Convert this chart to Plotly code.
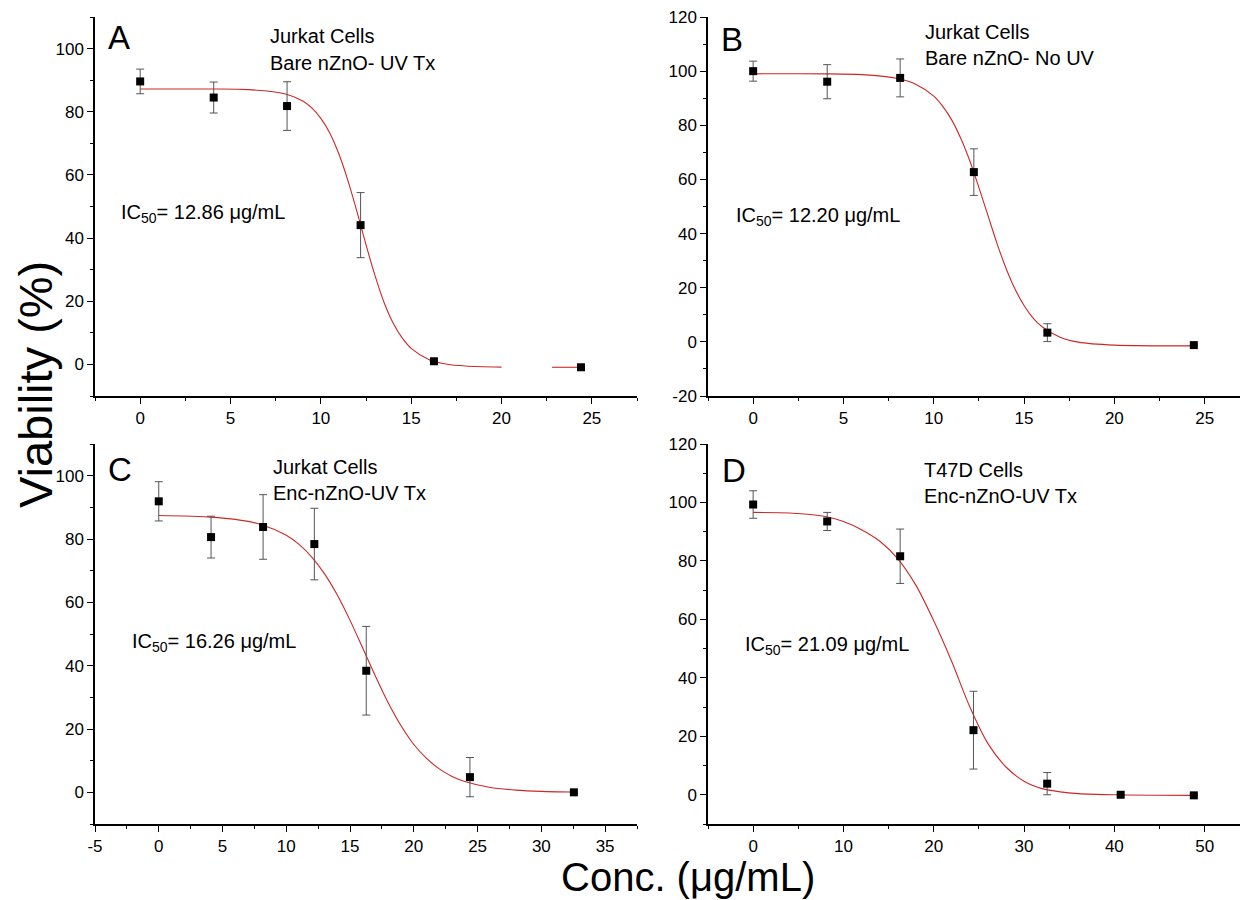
import plotly.graph_objects as go

# ---------------- data ----------------
# Panel A: Jurkat Cells, Bare nZnO - UV Tx
a_conc = [0, 4.07, 8.13, 12.2, 16.26, 24.4]
a_viab = [89.6, 84.5, 81.8, 44.1, 1.0, -0.9]
a_err = [3.9, 4.9, 7.7, 10.3, 0, 0]
a_fit_x = [0, 2, 4, 6, 8, 9, 9.5, 10, 10.5, 11, 11.5, 12, 12.5, 13, 13.5, 14, 14.5, 15, 16, 17, 18, 20, None, 22.8, 24.4]
a_fit_y = [87.2, 87.2, 87.2, 87.0, 85.7, 83.4, 81.2, 77.9, 73.2, 66.6, 58.2, 48.4, 37.9, 28.1, 19.6, 13.1, 8.4, 5.1, 1.5, 0.05, -0.5, -0.85, None, -0.9, -0.9]

# Panel B: Jurkat Cells, Bare nZnO - No UV
b_conc = [0, 4.1, 8.14, 12.22, 16.29, 24.4]
b_viab = [100.0, 96.1, 97.5, 62.7, 3.4, -1.2]
b_err = [3.7, 6.3, 7.0, 8.6, 3.3, 0]
b_fit_x = [0, 4, 6, 8, 9, 10, 10.5, 11, 11.5, 12, 12.5, 13, 13.5, 14, 14.5, 15, 15.5, 16, 17, 18, 20, 24.4]
b_fit_y = [99.0, 99.0, 98.7, 97.3, 95.2, 90.8, 87.0, 81.9, 75.1, 66.8, 57.0, 46.7, 36.4, 27.2, 19.5, 13.4, 8.8, 5.6, 1.7, -0.1, -1.2, -1.5]

# Panel C: Jurkat Cells, Enc-nZnO-UV Tx
c_conc = [0, 4.1, 8.18, 12.2, 16.27, 24.4, 32.55]
c_viab = [91.9, 80.6, 83.8, 78.4, 38.4, 4.8, 0.0]
c_err = [6.2, 6.6, 10.2, 11.3, 14.0, 6.2, 0]
c_fit_x = [0, 2, 4, 6, 8, 10, 11, 12, 13, 14, 15, 16, 17, 18, 19, 20, 21, 22, 23, 24, 26, 28, 30, 32.5]
c_fit_y = [87.4, 87.25, 86.9, 86.2, 84.6, 81.2, 78.3, 74.3, 69.0, 62.3, 54.3, 45.5, 36.6, 28.2, 21.0, 15.1, 10.7, 7.4, 5.0, 3.4, 1.5, 0.7, 0.3, 0.1]

# Panel D: T47D Cells, Enc-nZnO-UV Tx
d_conc = [0, 8.2, 16.28, 24.4, 32.56, 40.7, 48.8]
d_viab = [99.3, 93.5, 81.6, 22.1, 3.8, 0.0, -0.2]
d_err = [4.7, 3.1, 9.3, 13.3, 3.8, 0, 0]
d_fit_x = [0, 4, 8, 10, 12, 14, 16, 18, 20, 22, 24, 26, 28, 30, 32, 34, 36, 40, 48.8]
d_fit_y = [96.6, 96.4, 95.2, 93.5, 90.7, 86.8, 80.8, 71.8, 59.5, 45.5, 30.0, 17.5, 9.5, 4.6, 2.1, 1.0, 0.4, 0.0, -0.2]

# tick labels (hyphen minus as in the reference)
ab_xticks = [0, 5, 10, 15, 20, 25]
c_xticks = [-5, 0, 5, 10, 15, 20, 25, 30, 35]
d_xticks = [0, 10, 20, 30, 40, 50]
ac_yticks = [0, 20, 40, 60, 80, 100]
b_yticks = [-20, 0, 20, 40, 60, 80, 100, 120]
d_yticks = [0, 20, 40, 60, 80, 100, 120]

panel_letters = ["A", "B", "C", "D"]
panel_line1 = ["Jurkat Cells", "Jurkat Cells", "Jurkat Cells", "T47D Cells"]
panel_line2 = ["Bare nZnO- UV Tx", "Bare nZnO- No UV", "Enc-nZnO-UV Tx", "Enc-nZnO-UV Tx"]
ic50_values = ["12.86", "12.20", "16.26", "21.09"]

# ---------------- figure ----------------
# the page has an 8 px body margin: the figure is sized to the visible area
OFF = 8
W, H = 1248 - OFF, 900 - OFF
FONT = "Arial, Liberation Sans, Helvetica, sans-serif"

def px_x(p):
    return (p - OFF) / W

def px_y(p):
    return 1 - (p - OFF) / H

def lbl(v):
    return str(v).replace("\u2212", "-")

fig = go.Figure()

panels = [
    (a_conc, a_viab, a_err, a_fit_x, a_fit_y),
    (b_conc, b_viab, b_err, b_fit_x, b_fit_y),
    (c_conc, c_viab, c_err, c_fit_x, c_fit_y),
    (d_conc, d_viab, d_err, d_fit_x, d_fit_y),
]

for i, (cx, cy, ce, fx, fy) in enumerate(panels):
    xa = "x" if i == 0 else f"x{i+1}"
    ya = "y" if i == 0 else f"y{i+1}"
    fig.add_trace(go.Scatter(
        x=fx, y=fy, mode="lines", xaxis=xa, yaxis=ya,
        line=dict(color="rgb(205,40,40)", width=1.1, shape="spline", smoothing=0.8),
        connectgaps=False, showlegend=False, hoverinfo="skip"))
    fig.add_trace(go.Scatter(
        x=cx, y=cy, mode="markers", xaxis=xa, yaxis=ya,
        marker=dict(symbol="square", size=8, color="black"),
        error_y=dict(type="data", array=ce, visible=True, color="#555555",
                     thickness=1, width=4),
        showlegend=False))

# domains in page pixels
col_px = [(95, 637), (708, 1248)]
row_px = [(17, 396), (444, 824)]
x_ranges = [[-2.5, 27.5], [-2.5, 27.4], [-5, 37.5], [-5, 54.8]]
x_minor = [2.5, 2.5, 2.5, 5]
x_tickvals = [ab_xticks, ab_xticks, c_xticks, d_xticks]
y_ranges = [[-10, 110], [-20, 120], [-10, 110], [-10, 120]]
y_tickvals = [ac_yticks, b_yticks, ac_yticks, d_yticks]

for i in range(4):
    r, c = divmod(i, 2)
    xk = "xaxis" if i == 0 else f"xaxis{i+1}"
    yk = "yaxis" if i == 0 else f"yaxis{i+1}"
    ya_name = "y" if i == 0 else f"y{i+1}"
    xa_name = "x" if i == 0 else f"x{i+1}"
    common = dict(showline=True, linecolor="black", linewidth=1.5,
                  ticks="outside", ticklen=6, tickwidth=1.2, tickcolor="black",
                  showgrid=False, zeroline=False, mirror=False, automargin=False,
                  ticklabeloverflow="allow",
                  tickfont=dict(family=FONT, size=17, color="black"))
    fig.layout[xk] = dict(
        domain=[max(0, px_x(col_px[c][0])), min(1, px_x(col_px[c][1]))],
        range=x_ranges[i], tickmode="array", tickvals=x_tickvals[i],
        ticktext=[lbl(v) for v in x_tickvals[i]], anchor=ya_name,
        minor=dict(ticks="outside", ticklen=3.5, dtick=x_minor[i], tick0=0,
                   tickcolor="black", tickwidth=1.2),
        **common)
    fig.layout[yk] = dict(
        domain=[px_y(row_px[r][1]), px_y(row_px[r][0])],
        range=y_ranges[i], tickmode="array", tickvals=y_tickvals[i],
        ticktext=[lbl(v) for v in y_tickvals[i]], anchor=xa_name,
        minor=dict(ticks="outside", ticklen=3.5, dtick=10, tick0=0,
                   tickcolor="black", tickwidth=1.2),
        **common)

annotations = []
letter_pos = [(106, 38), (719, 39), (106, 469), (720, 470)]
line_pos = [(268, 36, 63), (923, 32, 58), (271, 467, 493), (922, 470, 496)]
ic_pos = [(119, 213), (734, 216), (130, 642), (743, 645)]
for i in range(4):
    lx, ly = letter_pos[i]
    annotations.append(dict(x=px_x(lx), y=px_y(ly), xref="paper", yref="paper",
                            text=panel_letters[i], showarrow=False,
                            xanchor="left", yanchor="middle",
                            font=dict(family=FONT, size=33, color="black")))
    tx, t1, t2 = line_pos[i]
    annotations.append(dict(x=px_x(tx), y=px_y(t1), xref="paper", yref="paper",
                            text=panel_line1[i], showarrow=False,
                            xanchor="left", yanchor="middle",
                            font=dict(family=FONT, size=20, color="black")))
    annotations.append(dict(x=px_x(tx), y=px_y(t2), xref="paper", yref="paper",
                            text=panel_line2[i], showarrow=False,
                            xanchor="left", yanchor="middle",
                            font=dict(family=FONT, size=20, color="black")))
    ix, iy = ic_pos[i]
    annotations.append(dict(x=px_x(ix), y=px_y(iy), xref="paper", yref="paper",
                            text=f"IC<sub>50</sub>= {ic50_values[i]} \u03bcg/mL",
                            showarrow=False, xanchor="left", yanchor="middle",
                            font=dict(family=FONT, size=20, color="black")))

annotations.append(dict(x=px_x(36), y=px_y(385), xref="paper", yref="paper",
                        text="Viability (%)", textangle=-90, showarrow=False,
                        xanchor="center", yanchor="middle",
                        font=dict(family=FONT, size=47, color="black")))
annotations.append(dict(x=px_x(688), y=px_y(877), xref="paper", yref="paper",
                        text="Conc. (\u03bcg/mL)", showarrow=False,
                        xanchor="center", yanchor="middle",
                        font=dict(family=FONT, size=40, color="black")))

fig.update_layout(width=W, height=H, margin=dict(l=0, r=0, t=0, b=0),
                  paper_bgcolor="white", plot_bgcolor="white",
                  annotations=annotations, showlegend=False)

fig.write_html("out.html")
